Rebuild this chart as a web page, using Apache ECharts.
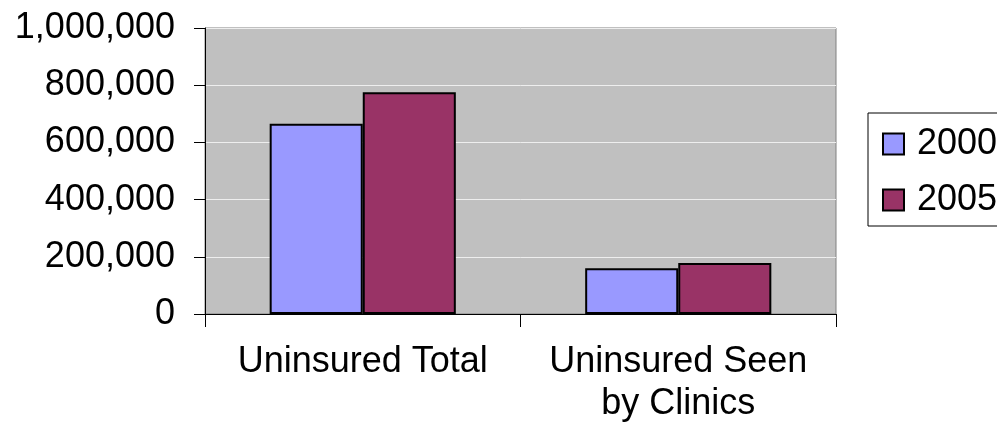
<!DOCTYPE html>
<html>
<head>
<meta charset="utf-8">
<script src="https://cdn.jsdelivr.net/npm/echarts@6/dist/echarts.min.js"></script>
<style>
html,body{margin:0;padding:0;background:#fff;}
#c{width:997px;height:425px;}
</style>
</head>
<body>
<div id="c"></div>
<script>
var categories = ['Uninsured Total', 'Uninsured Seen\nby Clinics'];
var seriesNames = ['2000', '2005'];
var values2000 = [665000, 160000];
var values2005 = [775000, 178000];
var yTicks = [0, 200000, 400000, 600000, 800000, 1000000];

var font = 'Liberation Sans, Arial, sans-serif';
var chart = echarts.init(document.getElementById('c'), null, {renderer: 'canvas'});
chart.setOption({
  animation: false,
  backgroundColor: '#ffffff',
  grid: {
    left: 205, right: 161, top: 28, bottom: 111,
    containLabel: false, outerBoundsMode: 'none',
    show: true, backgroundColor: '#c0c0c0', borderColor: '#808080', borderWidth: 1
  },
  legend: {
    orient: 'vertical',
    left: 868, top: 113,
    padding: [13, 30, 8, 14],
    itemGap: 20,
    itemWidth: 21, itemHeight: 21,
    borderColor: '#000', borderWidth: 1,
    backgroundColor: '#fff',
    icon: 'rect',
    itemStyle: {borderColor: '#000', borderWidth: 2},
    textStyle: {fontFamily: font, fontSize: 36, color: '#000', padding: [0, 0, 0, 8], lineHeight: 36},
    data: seriesNames
  },
  xAxis: {
    type: 'category',
    data: categories,
    axisLine: {lineStyle: {color: '#000', width: 1}},
    axisTick: {show: true, length: 13, lineStyle: {color: '#000'}},
    axisLabel: {fontFamily: font, fontSize: 36, color: '#000', margin: 27, lineHeight: 42, interval: 0}
  },
  yAxis: {
    type: 'value',
    min: yTicks[0], max: yTicks[yTicks.length - 1], interval: 200000,
    axisLine: {show: true, lineStyle: {color: '#000', width: 1}},
    axisTick: {show: true, length: 11, lineStyle: {color: '#000'}},
    splitLine: {show: true, lineStyle: {color: '#eeeeee', width: 1}},
    axisLabel: {
      fontFamily: font, fontSize: 36, color: '#000', margin: 30,
      formatter: function (v) { return v.toLocaleString('en-US'); }
    }
  },
  series: [
    {name: seriesNames[0], type: 'bar', data: values2000, barGap: '0%', barCategoryGap: '41%',
     itemStyle: {color: '#9999ff', borderColor: '#000', borderWidth: 2}},
    {name: seriesNames[1], type: 'bar', data: values2005, barGap: '0%', barCategoryGap: '41%',
     itemStyle: {color: '#993366', borderColor: '#000', borderWidth: 2}}
  ]
});
</script>
</body>
</html>
